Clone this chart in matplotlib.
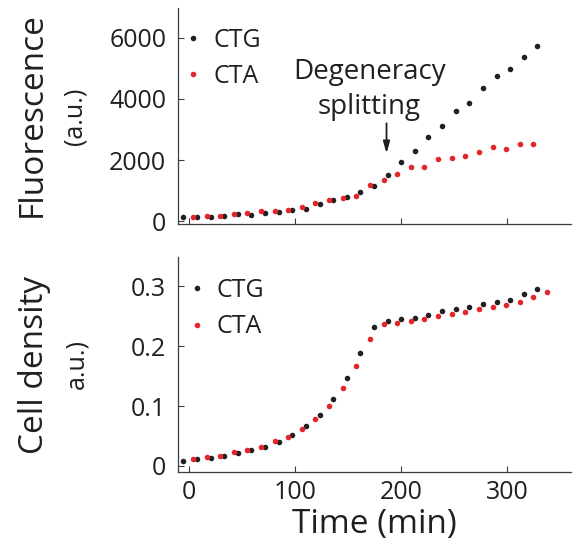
import matplotlib
matplotlib.use("Agg")
import matplotlib.pyplot as plt

plt.rcParams['font.family'] = ['Open Sans', 'DejaVu Sans']

INK = '#231f20'
RED = '#e4262a'

# Sampling times (min)
t_ctg = [-6.3, 6.9, 20.1, 32.7, 45.6, 58.5, 71.7, 84.3, 97.2, 110.0, 123.0, 135.5,
         148.4, 161.3, 174.2, 187.1, 199.7, 212.9, 225.5, 238.7, 251.3, 264.2,
         277.0, 290.0, 302.5, 315.7, 328.3]
t_cta = [3.8, 16.4, 28.9, 42.1, 54.7, 67.6, 80.5, 93.4, 106.3, 118.9, 131.8, 144.7,
         157.5, 170.4, 183.3, 195.9, 209.1, 221.7, 234.3, 247.5, 260.4, 273.3,
         286.2, 299.0, 311.9, 324.5, 337.1]

# Fluorescence (a.u.)
fl_ctg = [125, 147, 125, 158, 223, 213, 267, 300, 354, 409, 550, 692, 779, 965,
          1161, 1510, 1935, 2294, 2763, 3101, 3613, 3864, 4354, 4747, 4987, 5379, 5728]
fl_cta = [136, 158, 158, 223, 256, 322, 332, 376, 463, 605, 681, 768, 834, 1172,
          1335, 1542, 1760, 1782, 2033, 2076, 2142, 2251, 2414, 2360, 2513, 2524]

# Cell density (a.u.)
od_ctg = [0.0089, 0.0111, 0.0139, 0.0167, 0.0217, 0.0267, 0.0317, 0.0406, 0.0511,
          0.0661, 0.0850, 0.1117, 0.1461, 0.1883, 0.2322, 0.2422, 0.2444, 0.2472,
          0.2511, 0.2583, 0.2622, 0.2650, 0.2694, 0.2733, 0.2772, 0.2867, 0.2944]
od_cta = [0.0122, 0.0150, 0.0167, 0.0233, 0.0272, 0.0311, 0.0411, 0.0489, 0.0617,
          0.0778, 0.1000, 0.1300, 0.1661, 0.2122, 0.2367, 0.2389, 0.2411, 0.2450,
          0.2500, 0.2533, 0.2567, 0.2611, 0.2644, 0.2689, 0.2739, 0.2811, 0.2906]

x_ticks = [0, 100, 200, 300]
fl_ticks = [0, 2000, 4000, 6000]
od_ticks = [0, 0.1, 0.2, 0.3]

split_time = 186
split_tip, split_tail = 2218, 3200

fig = plt.figure(figsize=(5.82, 5.52), dpi=100)
ax1 = fig.add_axes([0.3058, 0.5951, 0.6753, 0.3904])
ax2 = fig.add_axes([0.3058, 0.1455, 0.6753, 0.3895])


def style(ax):
    for s in ('top', 'right'):
        ax.spines[s].set_visible(False)
    for s in ('left', 'bottom'):
        ax.spines[s].set_color('#3c3c3c')
        ax.spines[s].set_linewidth(0.9)
    ax.tick_params(direction='in', length=4, width=0.8, color='#3c3c3c',
                   labelsize=18, labelcolor=INK)
    ax.tick_params(axis='y', pad=8.5)
    ax.tick_params(axis='x', pad=6)
    ax.set_xlim(-10.7, 360)
    ax.set_xticks(x_ticks)


ms = 4.0
ax1.plot(t_ctg, fl_ctg, 'o', ms=ms, mec='none', color=INK, label='CTG')
ax1.plot(t_cta[:len(fl_cta)], fl_cta, 'o', ms=ms, mec='none', color=RED, label='CTA')
style(ax1)
ax1.set_ylim(-75, 6967)
ax1.set_yticks(fl_ticks)
ax1.set_xticklabels([])

ax1.annotate('', xy=(split_time, split_tip), xytext=(split_time, split_tail),
             arrowprops=dict(arrowstyle='-|>,head_length=0.7,head_width=0.2',
                             color=INK, lw=1.3, shrinkA=0, shrinkB=0))
ax1.text(170, 4300, 'Degeneracy\nsplitting', ha='center', va='center',
         fontsize=20, color=INK, linespacing=1.35)

ax2.plot(t_ctg, od_ctg, 'o', ms=ms, mec='none', color=INK, label='CTG')
ax2.plot(t_cta, od_cta, 'o', ms=ms, mec='none', color=RED, label='CTA')
style(ax2)
ax2.set_ylim(-0.0095, 0.349)
ax2.set_yticks(od_ticks)
ax2.set_yticklabels(['0', '0.1', '0.2', '0.3'])
ax2.set_xlabel('Time (min)', fontsize=24, color=INK, labelpad=2)

for ax, anchor in ((ax1, (-0.031, 1.002)), (ax2, (-0.022, 0.993))):
    ax.legend(loc='upper left', bbox_to_anchor=anchor, frameon=False,
              fontsize=18, handlelength=0.6, handletextpad=0.5,
              labelspacing=0.45, borderpad=0.3, markerscale=1.0,
              labelcolor=INK)

fig.text(0.055, 0.792, 'Fluorescence', rotation=90, ha='center', va='center',
         fontsize=24, color=INK)
fig.text(0.129, 0.790, '(a.u.)', rotation=90, ha='center', va='center',
         fontsize=18, color=INK)
fig.text(0.060, 0.339, 'Cell density', rotation=90, ha='center', va='center',
         fontsize=24, color=INK)
fig.text(0.132, 0.341, 'a.u.)', rotation=90, ha='center', va='center',
         fontsize=18, color=INK)

fig.savefig('out.png', dpi=100)
